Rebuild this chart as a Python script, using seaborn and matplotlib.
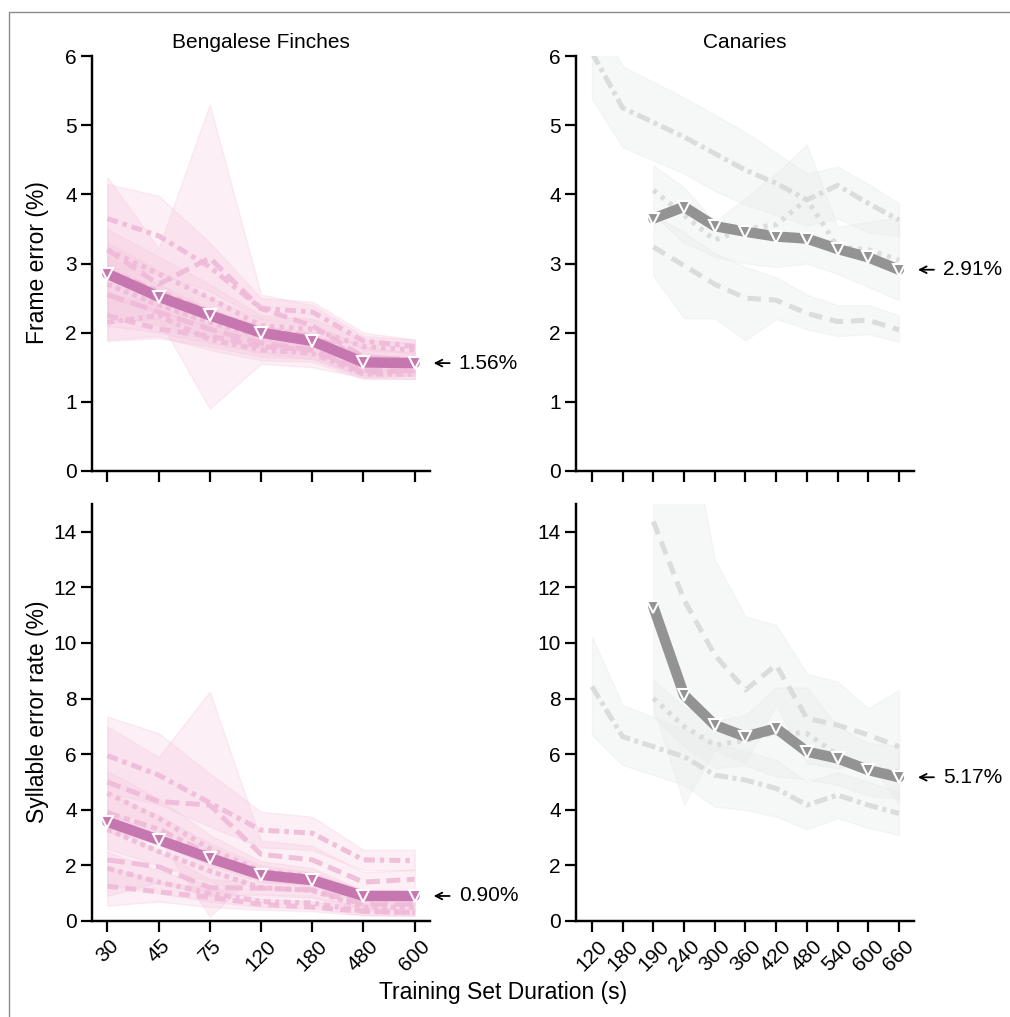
import numpy as np
import pandas as pd
import matplotlib
matplotlib.use("Agg")
import matplotlib.pyplot as plt
import seaborn as sns
from matplotlib import transforms
from matplotlib.lines import Line2D

sns.set_theme(style="ticks")
plt.rcParams['font.family'] = ['Liberation Sans', 'DejaVu Sans']
plt.rcParams.update({"text.color": "black", "axes.labelcolor": "black",
                     "xtick.color": "black", "ytick.color": "black"})

nan = np.nan

# ---------------- Bengalese finches ----------------
bf_labels = ["30", "45", "75", "120", "180", "480", "600"]

bf_fe_b1 = [3.65, 3.40, 2.95, 2.35, 2.30, 1.88, 1.80]
bf_fe_b2 = [3.20, 2.70, 3.08, 2.35, 2.10, 1.65, 1.60]
bf_fe_b3 = [3.20, 2.85, 2.50, 2.10, 2.05, 1.80, 1.75]
bf_fe_b4 = [2.90, 2.60, 2.30, 2.05, 1.95, 1.65, 1.60]
bf_fe_b5 = [2.70, 2.40, 2.15, 1.95, 1.85, 1.55, 1.55]
bf_fe_b6 = [2.55, 2.30, 2.05, 1.85, 1.75, 1.45, 1.45]
bf_fe_b7 = [2.25, 2.05, 1.95, 1.80, 1.75, 1.42, 1.45]
bf_fe_b8 = [2.15, 2.25, 1.90, 1.75, 1.70, 1.40, 1.40]

bf_fe_lo1 = [2.95, 2.85, 2.60, 2.20, 2.15, 1.75, 1.70]
bf_fe_hi1 = [4.15, 3.98, 3.30, 2.50, 2.45, 2.00, 1.90]
bf_fe_lo2 = [2.15, 2.20, 0.90, 1.55, 1.50, 1.35, 1.33]
bf_fe_hi2 = [4.25, 3.22, 5.30, 2.55, 2.40, 1.95, 1.90]
bf_fe_lo3 = [2.90, 2.60, 2.30, 1.95, 1.90, 1.70, 1.65]
bf_fe_hi3 = [3.50, 3.10, 2.70, 2.25, 2.20, 1.90, 1.85]
bf_fe_lo4 = [2.50, 2.30, 2.10, 1.90, 1.80, 1.50, 1.50]
bf_fe_hi4 = [3.30, 2.90, 2.50, 2.20, 2.10, 1.80, 1.70]
bf_fe_lo5 = [2.30, 2.10, 1.95, 1.80, 1.70, 1.45, 1.45]
bf_fe_hi5 = [3.10, 2.70, 2.35, 2.10, 2.00, 1.65, 1.65]
bf_fe_lo6 = [2.10, 2.00, 1.85, 1.70, 1.62, 1.38, 1.38]
bf_fe_hi6 = [3.00, 2.60, 2.25, 2.00, 1.90, 1.55, 1.55]
bf_fe_lo7 = [1.88, 1.92, 1.80, 1.65, 1.62, 1.35, 1.38]
bf_fe_hi7 = [2.60, 2.30, 2.10, 1.95, 1.90, 1.50, 1.52]
bf_fe_lo8 = [1.90, 1.95, 1.75, 1.60, 1.58, 1.33, 1.33]
bf_fe_hi8 = [2.45, 2.50, 2.05, 1.90, 1.82, 1.48, 1.48]

bf_fe_mean = [2.85, 2.52, 2.25, 2.00, 1.88, 1.57, 1.56]

bf_syl_b1 = [5.95, 5.25, 4.25, 3.27, 3.16, 2.20, 2.17]
bf_syl_b2 = [5.00, 4.30, 4.17, 2.40, 2.20, 1.40, 1.50]
bf_syl_b3 = [4.60, 3.70, 2.60, 1.80, 1.60, 0.85, 0.80]
bf_syl_b4 = [3.90, 3.30, 2.40, 1.70, 1.50, 0.90, 0.85]
bf_syl_b5 = [3.30, 2.50, 1.80, 1.20, 1.10, 0.50, 0.50]
bf_syl_b6 = [2.20, 1.95, 1.20, 1.18, 1.12, 0.60, 0.60]
bf_syl_b7 = [1.25, 1.05, 0.85, 0.60, 0.50, 0.35, 0.30]
bf_syl_b8 = [1.90, 1.40, 1.00, 0.70, 0.65, 0.35, 0.30]

bf_syl_lo1 = [4.60, 4.20, 3.40, 2.65, 2.55, 1.83, 1.83]
bf_syl_hi1 = [7.35, 6.76, 5.30, 3.93, 3.75, 2.56, 2.56]
bf_syl_lo2 = [3.60, 3.00, 0.15, 1.90, 1.70, 1.05, 1.15]
bf_syl_hi2 = [7.00, 5.90, 8.25, 2.90, 2.70, 1.75, 1.85]
bf_syl_lo3 = [3.80, 3.00, 2.10, 1.45, 1.30, 0.60, 0.55]
bf_syl_hi3 = [5.40, 4.40, 3.10, 2.15, 1.90, 1.10, 1.05]
bf_syl_lo4 = [3.20, 2.80, 2.00, 1.40, 1.25, 0.70, 0.65]
bf_syl_hi4 = [4.60, 3.80, 2.80, 2.00, 1.75, 1.10, 1.05]
bf_syl_lo5 = [2.60, 2.00, 1.40, 0.95, 0.85, 0.35, 0.35]
bf_syl_hi5 = [4.00, 3.00, 2.20, 1.45, 1.35, 0.65, 0.65]
bf_syl_lo6 = [0.90, 1.40, 0.90, 0.95, 0.90, 0.45, 0.45]
bf_syl_hi6 = [3.50, 2.50, 1.50, 1.40, 1.35, 0.75, 0.75]
bf_syl_lo7 = [0.55, 0.70, 0.50, 0.40, 0.35, 0.20, 0.18]
bf_syl_hi7 = [1.95, 1.40, 1.20, 0.80, 0.70, 0.50, 0.45]
bf_syl_lo8 = [1.30, 1.00, 0.70, 0.50, 0.45, 0.22, 0.20]
bf_syl_hi8 = [2.50, 1.80, 1.30, 0.90, 0.85, 0.50, 0.45]

bf_syl_mean = [3.57, 2.92, 2.26, 1.66, 1.47, 0.90, 0.90]

# ---------------- Canaries ----------------
can_labels = ["120", "180", "190", "240", "300", "360", "420", "480", "540", "600", "660"]

can_fe_c1 = [6.05, 5.25, nan, 4.83, 4.59, 4.35, 4.16, 3.92, 4.13, 3.87, 3.63]
can_fe_c2 = [nan, nan, 4.06, 3.70, 3.34, 3.50, 3.56, 3.93, 3.24, 3.20, 3.05]
can_fe_c3 = [nan, nan, 3.24, 2.97, 2.70, 2.50, 2.47, 2.28, 2.16, 2.18, 2.04]
can_fe_lo1 = [5.38, 4.68, nan, 4.30, 4.05, 3.85, 3.70, 3.55, 3.65, 3.45, 3.40]
can_fe_hi1 = [6.72, 5.85, nan, 5.40, 5.15, 4.90, 4.60, 4.30, 4.40, 4.15, 3.87]
can_fe_lo2 = [nan, nan, 3.70, 3.30, 3.10, 3.00, 2.95, 3.00, 2.85, 2.66, 2.47]
can_fe_hi2 = [nan, nan, 4.42, 4.10, 3.60, 3.95, 4.30, 4.72, 3.53, 3.60, 3.67]
can_fe_lo3 = [nan, nan, 2.82, 2.21, 2.21, 1.89, 2.20, 2.05, 1.95, 1.98, 1.87]
can_fe_hi3 = [nan, nan, 3.70, 3.45, 3.15, 2.95, 2.80, 2.55, 2.40, 2.40, 2.25]
can_fe_mean = [nan, nan, 3.65, 3.82, 3.54, 3.46, 3.39, 3.36, 3.21, 3.09, 2.91]

can_syl_c1 = [8.43, 6.63, nan, 5.91, 5.25, 5.07, 4.77, 4.17, 4.53, 4.17, 3.87]
can_syl_c2 = [nan, nan, 8.01, 7.00, 6.33, 6.50, 6.80, 6.75, 5.97, 5.43, 5.37]
can_syl_c3 = [nan, nan, 14.37, 11.55, 9.57, 8.31, 9.21, 7.29, 7.05, 6.69, 6.27]
can_syl_lo1 = [6.69, 5.61, nan, 4.90, 4.11, 4.00, 3.75, 3.30, 3.70, 3.35, 3.10]
can_syl_hi1 = [10.23, 7.77, nan, 6.90, 6.40, 6.10, 5.80, 5.00, 5.35, 5.00, 4.65]
can_syl_lo2 = [nan, nan, 7.35, 6.30, 5.50, 5.60, 5.20, 5.10, 4.90, 4.50, 4.40]
can_syl_hi2 = [nan, nan, 8.67, 7.70, 7.20, 7.40, 8.40, 8.40, 7.00, 6.40, 6.30]
can_syl_lo3 = [nan, nan, 7.70, 4.20, 6.14, 5.67, 7.77, 5.68, 5.49, 5.73, 4.23]
can_syl_hi3 = [nan, nan, 21.0, 18.9, 13.0, 10.95, 10.65, 8.90, 8.61, 7.65, 8.31]
can_syl_mean = [nan, nan, 11.30, 8.13, 7.05, 6.63, 6.93, 6.09, 5.85, 5.43, 5.17]

# ---------------- styles ----------------
BF_MEAN = "#c777b0"
BF_LINE = "#efbad8"
BF_BAND = "#f5c6de"
CAN_MEAN = "#939393"
CAN_LINE = "#d9d9d9"
CAN_BAND = "#e9ebeb"

bf_dashes = {"b1": (2.2, 1.0, 0.9, 1.0), "b2": (2.8, 1.3), "b3": (0.9, 1.0),
             "b4": (2.5, 1.0, 1.2, 1.0), "b5": (1.0, 0.8), "b6": (3.5, 1.4),
             "b7": (2.2, 1.4), "b8": (1.4, 0.9, 0.8, 0.9)}
can_dashes = {"b1": (2.7, 0.9, 0.8, 0.9), "b2": (0.8, 1.2), "b3": (2.7, 1.6)}

W, H = 1010, 1017
fig = plt.figure(figsize=(W / 100, H / 100), dpi=100)


def fx(px):
    return px / W


def fy(py):
    return 1 - py / H


ax_tl = fig.add_axes([fx(92), fy(471), fx(430) - fx(92), fy(56) - fy(471)])
ax_tr = fig.add_axes([fx(576), fy(471), fx(914) - fx(576), fy(56) - fy(471)])
ax_bl = fig.add_axes([fx(92), fy(921), fx(430) - fx(92), fy(504) - fy(921)])
ax_br = fig.add_axes([fx(576), fy(921), fx(914) - fx(576), fy(504) - fy(921)])


def draw_panel(ax, labels, birds, lows, highs, mean, mcol, lcol, bcol, dashes, band_alpha):
    pos = np.arange(len(labels))
    for lo, hi in zip(lows, highs):
        lo = np.asarray(lo, float)
        hi = np.asarray(hi, float)
        m = ~np.isnan(lo)
        ax.fill_between(pos[m], lo[m], hi[m], facecolor=bcol, alpha=band_alpha,
                        edgecolor=bcol, linewidth=1.0, zorder=1)
    rows = []
    for i, vals in enumerate(birds):
        for p, v in zip(pos, vals):
            if not np.isnan(v):
                rows.append(dict(pos=p, val=v, bird=f"b{i + 1}"))
    df = pd.DataFrame(rows)
    sns.lineplot(data=df, x="pos", y="val", style="bird", dashes=dashes,
                 color=lcol, linewidth=3.6, legend=False, estimator=None,
                 ax=ax, zorder=2, alpha=0.9)
    mdf = pd.DataFrame(dict(pos=pos, val=np.asarray(mean, float))).dropna()
    sns.lineplot(data=mdf, x="pos", y="val", color=mcol, linewidth=7.5,
                 marker="v", markersize=9, markeredgecolor="white",
                 markeredgewidth=1.5, markerfacecolor=mcol, legend=False,
                 ax=ax, zorder=3)
    ax.set_xticks(pos)
    ax.set_xticklabels(labels, rotation=45)
    if len(labels) < 10:
        ax.set_xlim(-0.3, len(labels) - 1 + 0.3)
    else:
        ax.set_xlim(-0.52, len(labels) - 1 + 0.49)
    ax.set_xlabel("")
    ax.set_ylabel("")
    last = mdf["pos"].iloc[-1]
    v = mdf["val"].iloc[-1]
    tip = transforms.offset_copy(ax.transData, fig=fig, x=19, y=0, units="dots")
    tail = transforms.offset_copy(ax.transData, fig=fig, x=35, y=0, units="dots")
    txt = transforms.offset_copy(ax.transData, fig=fig, x=44, y=0, units="dots")
    ax.annotate("", xy=(last, v), xycoords=tip, xytext=(last, v), textcoords=tail,
                arrowprops=dict(arrowstyle="->", color="black", lw=1.3,
                                shrinkA=0, shrinkB=0, mutation_scale=12),
                annotation_clip=False)
    ax.text(last, v, f"{v:.2f}%", transform=txt, ha="left", va="center",
            fontsize=15, clip_on=False, color="black")


draw_panel(ax_tl, bf_labels,
           [bf_fe_b1, bf_fe_b2, bf_fe_b3, bf_fe_b4, bf_fe_b5, bf_fe_b6, bf_fe_b7, bf_fe_b8],
           [bf_fe_lo1, bf_fe_lo2, bf_fe_lo3, bf_fe_lo4, bf_fe_lo5, bf_fe_lo6, bf_fe_lo7, bf_fe_lo8],
           [bf_fe_hi1, bf_fe_hi2, bf_fe_hi3, bf_fe_hi4, bf_fe_hi5, bf_fe_hi6, bf_fe_hi7, bf_fe_hi8],
           bf_fe_mean, BF_MEAN, BF_LINE, BF_BAND, bf_dashes, 0.28)
draw_panel(ax_bl, bf_labels,
           [bf_syl_b1, bf_syl_b2, bf_syl_b3, bf_syl_b4, bf_syl_b5, bf_syl_b6, bf_syl_b7, bf_syl_b8],
           [bf_syl_lo1, bf_syl_lo2, bf_syl_lo3, bf_syl_lo4, bf_syl_lo5, bf_syl_lo6, bf_syl_lo7, bf_syl_lo8],
           [bf_syl_hi1, bf_syl_hi2, bf_syl_hi3, bf_syl_hi4, bf_syl_hi5, bf_syl_hi6, bf_syl_hi7, bf_syl_hi8],
           bf_syl_mean, BF_MEAN, BF_LINE, BF_BAND, bf_dashes, 0.28)
draw_panel(ax_tr, can_labels,
           [can_fe_c1, can_fe_c2, can_fe_c3],
           [can_fe_lo1, can_fe_lo2, can_fe_lo3],
           [can_fe_hi1, can_fe_hi2, can_fe_hi3],
           can_fe_mean, CAN_MEAN, CAN_LINE, CAN_BAND, can_dashes, 0.38)
draw_panel(ax_br, can_labels,
           [can_syl_c1, can_syl_c2, can_syl_c3],
           [can_syl_lo1, can_syl_lo2, can_syl_lo3],
           [can_syl_hi1, can_syl_hi2, can_syl_hi3],
           can_syl_mean, CAN_MEAN, CAN_LINE, CAN_BAND, can_dashes, 0.38)

for ax in (ax_tl, ax_tr):
    ax.set_ylim(0, 6)
    ax.set_yticks(range(0, 7))
for ax in (ax_bl, ax_br):
    ax.set_ylim(0, 15)
    ax.set_yticks(range(0, 15, 2))
ax_tl.tick_params(axis="x", labelbottom=False)
ax_tr.tick_params(axis="x", labelbottom=False)

for ax in (ax_tl, ax_tr, ax_bl, ax_br):
    sns.despine(ax=ax)
    for s in ("left", "bottom"):
        ax.spines[s].set_linewidth(1.75)
        ax.spines[s].set_color("black")
    ax.tick_params(axis="both", length=8, width=1.6, color="black",
                   labelcolor="black", labelsize=15, pad=3, direction="out")

ax_tl.set_title("Bengalese Finches", fontsize=15, pad=6, color="black")
ax_tr.set_title("Canaries", fontsize=15, pad=6, color="black")

fig.text(fx(38), fy(263), "Frame error (%)", rotation=90, ha="center", va="center",
         fontsize=16.5, color="black")
fig.text(fx(38), fy(712), "Syllable error rate (%)", rotation=90, ha="center", va="center",
         fontsize=16.5, color="black")
fig.text(fx(503), fy(993), "Training Set Duration (s)", ha="center", va="center",
         fontsize=16.5, color="black")

fig.add_artist(Line2D([fx(9), fx(9)], [fy(12), 0], color="#8a8a8a", lw=1.0))
fig.add_artist(Line2D([fx(9), 1], [fy(12), fy(12)], color="#8a8a8a", lw=1.0))

fig.savefig("out.png", dpi=100)
